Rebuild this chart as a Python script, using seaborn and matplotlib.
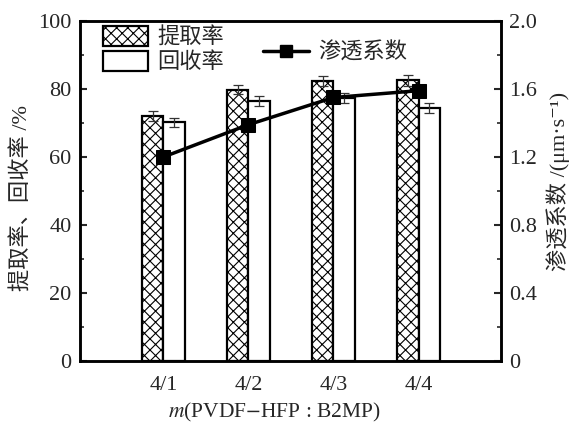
import matplotlib
matplotlib.use("Agg")
import matplotlib.pyplot as plt
import seaborn as sns
import pandas as pd
import numpy as np
from matplotlib.lines import Line2D
from matplotlib.patches import Patch
from matplotlib.ticker import MultipleLocator, FuncFormatter

categories = ["4/1", "4/2", "4/3", "4/4"]
extraction = [72.0, 79.8, 82.3, 82.5]
extraction_err = [1.4, 1.4, 1.5, 1.5]
recovery = [70.2, 76.5, 77.3, 74.4]
recovery_err = [1.4, 1.5, 1.4, 1.5]
permeability = [1.20, 1.39, 1.55, 1.59]
series_names = ["提取率", "回收率"]
line_name = "渗透系数"

sns.set_theme(style="white")
fam = ["Liberation Serif", "Noto Sans CJK SC", "DejaVu Serif"]
plt.rcParams["font.family"] = fam
plt.rcParams["mathtext.fontset"] = "stix"
plt.rcParams["hatch.linewidth"] = 0.8
plt.rcParams["hatch.color"] = "#444444"

df = pd.DataFrame({
    "cat": categories * 2,
    "val": extraction + recovery,
    "series": [series_names[0]] * 4 + [series_names[1]] * 4,
})

fig = plt.figure(figsize=(5.75, 4.24), dpi=100)
ax = fig.add_axes([80 / 575, 1 - 361 / 424, 421 / 575, 340 / 424])

sns.barplot(data=df, x="cat", y="val", hue="series", order=categories,
            hue_order=series_names, width=0.51, gap=0, ax=ax,
            palette=["white", "white"], edgecolor="black", linewidth=1.6,
            errorbar=None, legend=False)

HATCH = "xxx"
errs = [extraction_err, recovery_err]
vals = [extraction, recovery]
bar_containers = list(ax.containers)
for i, cont in enumerate(bar_containers):
    xs = []
    for p in cont.patches:
        if i == 0:
            p.set_hatch(HATCH)
        xs.append(p.get_x() + p.get_width() / 2)
    ax.errorbar(xs, vals[i], yerr=errs[i], fmt="none", ecolor="#333333",
                elinewidth=0.9, capsize=3.5, capthick=0.9, zorder=5)

ax.set_xlim(-0.98, 3.97)
ax.set_ylim(0, 100)
ax.yaxis.set_major_locator(MultipleLocator(20))
ax.yaxis.set_minor_locator(MultipleLocator(10))
ax.tick_params(axis="y", which="major", direction="in", length=5, width=1.5,
               labelsize=16, pad=6, left=True)
ax.tick_params(axis="y", which="minor", direction="in", length=3, width=1.2, left=True)
ax.tick_params(axis="x", which="both", bottom=False, labelsize=16, pad=5)
for s in ax.spines.values():
    s.set_linewidth(1.8)
    s.set_color("black")
ax.set_xlabel(r"$m$(PVDF$-$HFP : B2MP)", fontsize=15.5, labelpad=4)
ax.xaxis.set_label_coords(0.463, -0.118)
ax.set_ylabel("提取率、回收率 /%", fontsize=16, labelpad=6)
ax.yaxis.set_label_coords(-0.112, 0.48)

ax2 = ax.twinx()
sns.lineplot(x=np.arange(len(categories)), y=permeability, ax=ax2, color="black",
             linewidth=2.5, marker="s", markersize=10, markeredgecolor="black",
             markerfacecolor="black", zorder=6)
ax2.set_ylim(0, 2.0)
ax2.yaxis.set_major_locator(MultipleLocator(0.4))
ax2.yaxis.set_minor_locator(MultipleLocator(0.2))
ax2.yaxis.set_major_formatter(FuncFormatter(
    lambda v, p: "0" if abs(v) < 1e-9 else f"{v:.1f}"))
ax2.tick_params(axis="y", which="major", direction="in", length=5, width=1.5,
                labelsize=16, pad=6, right=True)
ax2.tick_params(axis="y", which="minor", direction="in", length=3, width=1.2, right=True)
for s in ax2.spines.values():
    s.set_linewidth(1.8)
    s.set_color("black")
ax2.set_ylabel("渗透系数 /(μm·s⁻¹)", fontsize=16, labelpad=8)
ax2.yaxis.set_label_coords(1.108, 0.527)

h_bars = [Patch(facecolor="white", edgecolor="black", hatch=HATCH, linewidth=1.6),
          Patch(facecolor="white", edgecolor="black", linewidth=1.6)]
leg1 = ax2.legend(h_bars, series_names, loc="upper left", bbox_to_anchor=(0.055, 0.985),
                  frameon=False, fontsize=16, handlelength=2.0, handleheight=1.0,
                  labelspacing=0.1, handletextpad=0.45, borderpad=0, borderaxespad=0)
ax2.add_artist(leg1)
h_line = [Line2D([], [], color="black", linewidth=2.5, marker="s", markersize=9)]
ax2.legend(h_line, [line_name], loc="center left", bbox_to_anchor=(0.435, 0.905),
           frameon=False, fontsize=16, handlelength=2.05, handletextpad=0.45,
           borderpad=0, borderaxespad=0)

fig.savefig("out.png", dpi=100)
